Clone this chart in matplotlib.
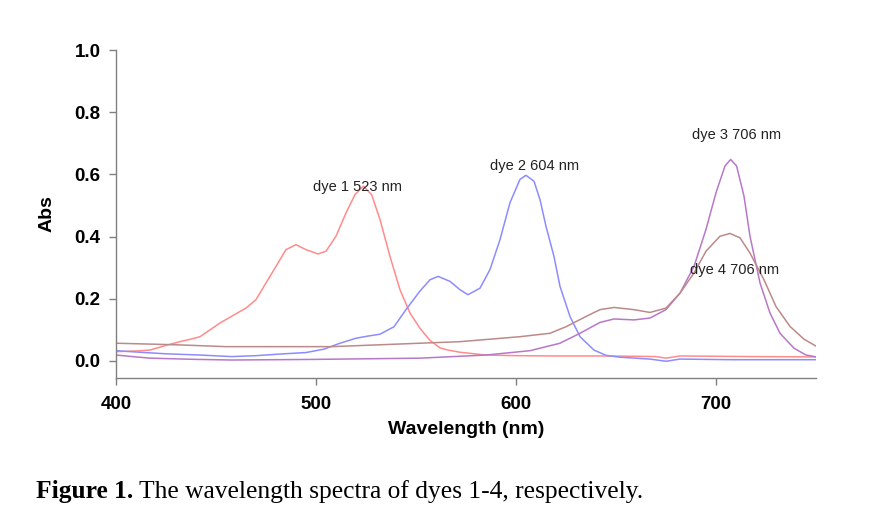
import matplotlib
matplotlib.use("Agg")
import matplotlib.pyplot as plt

# absorbance spectra (wavelength nm, Abs)
dye1_nm = [400, 410, 417, 425, 432, 438, 442, 447, 452, 459, 465, 470, 475, 480, 485, 490, 495,
           501, 505, 510, 515, 519.5, 523.7, 527.8, 532, 537, 542, 547, 552, 557, 562, 566,
           572, 585, 600, 619, 642, 660, 670, 675, 682, 700, 720, 750]
dye1_abs = [0.030, 0.032, 0.035, 0.050, 0.062, 0.071, 0.078, 0.100, 0.122, 0.148, 0.170, 0.197,
            0.251, 0.304, 0.358, 0.374, 0.358, 0.344, 0.353, 0.401, 0.476, 0.535, 0.562, 0.535,
            0.455, 0.336, 0.229, 0.154, 0.105, 0.066, 0.042, 0.035, 0.028, 0.019, 0.017, 0.016,
            0.016, 0.015, 0.014, 0.009, 0.016, 0.015, 0.014, 0.013]

dye2_nm = [400, 412, 425, 442, 458, 470, 484, 495, 504, 512, 520, 526, 532, 539, 545, 552, 557,
           561, 567, 572, 576, 582, 587, 592, 597, 602, 605, 609, 612, 615, 619, 622, 627, 632,
           639, 645, 652, 667, 675, 682, 708, 750]
dye2_abs = [0.033, 0.028, 0.023, 0.019, 0.014, 0.017, 0.023, 0.027, 0.038, 0.057, 0.073, 0.080,
            0.086, 0.110, 0.165, 0.225, 0.261, 0.272, 0.256, 0.229, 0.213, 0.234, 0.294, 0.390,
            0.509, 0.584, 0.597, 0.578, 0.519, 0.433, 0.336, 0.240, 0.143, 0.078, 0.035, 0.018,
            0.012, 0.006, -0.001, 0.006, 0.004, 0.004]

dye3_nm = [400, 410, 417, 440, 458, 500, 552, 585, 607, 622, 632, 642, 649, 659, 667, 675, 682,
           689, 695, 700, 704.5, 707.3, 710.3, 714, 717, 722, 727, 732, 739, 745, 751]
dye3_abs = [0.019, 0.013, 0.009, 0.005, 0.003, 0.005, 0.009, 0.019, 0.033, 0.057, 0.089, 0.124,
            0.135, 0.132, 0.138, 0.165, 0.218, 0.304, 0.423, 0.541, 0.627, 0.648, 0.627, 0.530,
            0.401, 0.251, 0.154, 0.089, 0.041, 0.019, 0.012]

dye4_nm = [400, 430, 455, 508, 552, 572, 602, 617, 625, 635, 642, 649, 659, 667, 675, 682, 689,
           695, 702, 707, 712, 717, 724, 730, 737, 744, 751]
dye4_abs = [0.057, 0.052, 0.046, 0.046, 0.057, 0.062, 0.078, 0.089, 0.110, 0.143, 0.165, 0.172,
            0.165, 0.156, 0.170, 0.218, 0.283, 0.353, 0.401, 0.410, 0.396, 0.347, 0.261, 0.175,
            0.111, 0.070, 0.044]

labels = ["dye 1 523 nm", "dye 2 604 nm", "dye 3 706 nm", "dye 4 706 nm"]
label_pos = [(521, 0.561), (609.5, 0.626), (710.5, 0.726), (709.5, 0.294)]

plt.rcParams['font.family'] = ['Liberation Sans', 'DejaVu Sans']

fig = plt.figure(figsize=(8.76, 5.28), dpi=100)
ax = fig.add_axes([0.1324, 0.284, 0.7991, 0.6213])

ax.plot(dye1_nm, dye1_abs, color='#ff8c8c', lw=1.1)
ax.plot(dye2_nm, dye2_abs, color='#8c8cff', lw=1.1)
ax.plot(dye3_nm, dye3_abs, color='#b878c8', lw=1.1)
ax.plot(dye4_nm, dye4_abs, color='#bc8a88', lw=1.1)

for txt, (x, y) in zip(labels, label_pos):
    ax.text(x, y, txt, ha='center', va='center', fontsize=10.5, color='#222222')

ax.set_xlim(400, 750)
ax.set_ylim(-0.055, 1.0)
ax.set_xticks([400, 500, 600, 700])
ax.set_yticks([0.0, 0.2, 0.4, 0.6, 0.8, 1.0])
ax.set_yticklabels(["0.0", "0.2", "0.4", "0.6", "0.8", "1.0"])

for s in ['top', 'right']:
    ax.spines[s].set_visible(False)
for s in ['left', 'bottom']:
    ax.spines[s].set_color('#808080')
    ax.spines[s].set_linewidth(1.0)

ax.tick_params(direction='out', length=5, width=1, color='#808080', labelsize=13.5, pad=6)
ax.tick_params(axis='x', pad=8)
for lab in ax.get_xticklabels() + ax.get_yticklabels():
    lab.set_fontweight('bold')

ax.set_xlabel("Wavelength (nm)", fontsize=14, fontweight='bold', labelpad=6)
ax.set_ylabel("Abs", fontsize=14, fontweight='bold', labelpad=14)

# caption under the chart
fig.text(36 / 876, 0.057, "Figure 1.", fontsize=18.4, fontweight='bold', family='Liberation Serif')
fig.text(139 / 876, 0.057, "The wavelength spectra of dyes 1-4, respectively.", fontsize=18.4,
         family='Liberation Serif')

fig.savefig("out.png", dpi=100)
